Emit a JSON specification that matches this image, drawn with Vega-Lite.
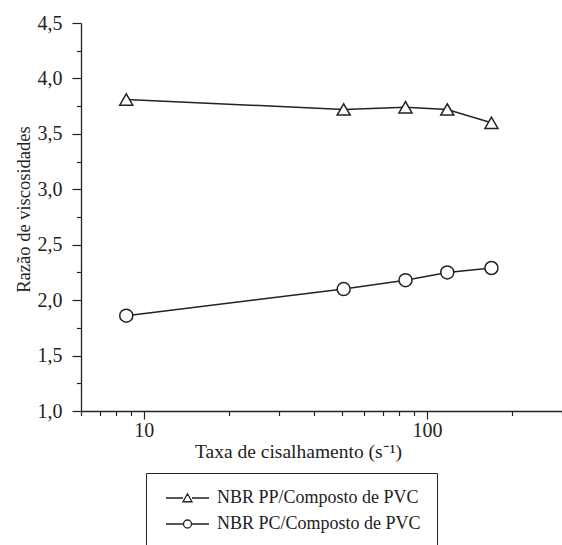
{
  "$schema": "https://vega.github.io/schema/vega-lite/v6.json",
  "width": 481,
  "height": 388,
  "autosize": {"type": "none"},
  "padding": {"left": 81, "top": 23, "right": 0, "bottom": 134},
  "background": "white",
  "config": {
    "view": {"stroke": null},
    "axis": {
      "labelFont": "Liberation Serif",
      "labelFontSize": 20,
      "labelColor": "#222",
      "titleFont": "Liberation Serif",
      "titleFontSize": 19.5,
      "titleFontWeight": "normal",
      "titleColor": "#222",
      "domainColor": "#222",
      "tickColor": "#222",
      "domainWidth": 1.3,
      "tickWidth": 1.2,
      "grid": false
    },
    "legend": {
      "labelFont": "Liberation Serif",
      "labelFontSize": 18,
      "labelColor": "#222",
      "labelLimit": 400
    }
  },
  "data": {
    "values": [
      {"taxa": 8.67, "razao": 3.81, "serie": "NBR PP/Composto de PVC"},
      {"taxa": 50.8, "razao": 3.72, "serie": "NBR PP/Composto de PVC"},
      {"taxa": 84, "razao": 3.74, "serie": "NBR PP/Composto de PVC"},
      {"taxa": 118, "razao": 3.72, "serie": "NBR PP/Composto de PVC"},
      {"taxa": 169, "razao": 3.6, "serie": "NBR PP/Composto de PVC"},
      {"taxa": 8.67, "razao": 1.86, "serie": "NBR PC/Composto de PVC"},
      {"taxa": 50.8, "razao": 2.1, "serie": "NBR PC/Composto de PVC"},
      {"taxa": 84, "razao": 2.18, "serie": "NBR PC/Composto de PVC"},
      {"taxa": 118, "razao": 2.25, "serie": "NBR PC/Composto de PVC"},
      {"taxa": 169, "razao": 2.29, "serie": "NBR PC/Composto de PVC"}
    ]
  },
  "resolve": {
    "axis": {"x": "independent", "y": "independent"},
    "scale": {"shape": "independent"},
    "legend": {"shape": "independent"}
  },
  "layer": [
    {
      "mark": {"type": "line", "color": "#222", "strokeWidth": 1.5},
      "encoding": {
        "x": {
          "field": "taxa", "type": "quantitative",
          "scale": {"type": "log", "domain": [6, 300], "nice": false},
          "axis": {
            "orient": "bottom",
            "values": [10, 100],
            "format": "d",
            "tickSize": 8,
            "labelPadding": 1,
            "title": "Taxa de cisalhamento (s⁻¹)",
            "titleX": 217,
            "titleY": 46,
            "titleBaseline": "alphabetic",
            "titleAnchor": "middle"
          }
        },
        "y": {
          "field": "razao", "type": "quantitative",
          "scale": {"domain": [1, 4.5], "nice": false, "zero": false},
          "axis": {
            "orient": "left",
            "values": [1, 1.5, 2, 2.5, 3, 3.5, 4, 4.5],
            "labelExpr": "replace(format(datum.value, '.1f'), '.', ',')",
            "tickSize": 9,
            "labelPadding": 10,
            "title": "Razão de viscosidades",
            "titleFontSize": 18.5,
            "titleAngle": -90,
            "titleX": -51.5,
            "titleY": 186,
            "titleAlign": "center",
            "titleBaseline": "alphabetic"
          }
        },
        "detail": {"field": "serie"}
      }
    },
    {
      "mark": {"type": "point", "filled": true, "fill": "white", "stroke": "#222", "strokeWidth": 1.5, "opacity": 1},
      "encoding": {
        "x": {
          "field": "taxa", "type": "quantitative",
          "axis": {
            "orient": "bottom",
            "values": [6, 7, 8, 9, 20, 30, 40, 50, 60, 70, 80, 90, 200, 300],
            "labels": false,
            "tickSize": 4.5,
            "domain": false,
            "title": null
          }
        },
        "y": {
          "field": "razao", "type": "quantitative",
          "axis": {
            "orient": "left",
            "values": [1.25, 1.75, 2.25, 2.75, 3.25, 3.75, 4.25],
            "labels": false,
            "tickSize": 4.5,
            "domain": false,
            "title": null
          }
        },
        "shape": {
          "field": "serie", "type": "nominal",
          "scale": {"domain": ["NBR PP/Composto de PVC", "NBR PC/Composto de PVC"], "range": ["triangle-up", "circle"]},
          "legend": null
        },
        "size": {"value": 170}
      }
    },
    {
      "transform": [{"filter": "false"}],
      "mark": {"type": "point", "filled": false, "color": "#222", "strokeWidth": 1.3, "opacity": 1},
      "encoding": {
        "x": {"field": "taxa", "type": "quantitative", "axis": null},
        "y": {"field": "razao", "type": "quantitative", "axis": null},
        "shape": {
          "field": "serie", "type": "nominal",
          "scale": {
            "domain": ["NBR PP/Composto de PVC", "NBR PC/Composto de PVC"],
            "range": [
              "M-1,0L2.4,0M4.2,0L7.6,0M2.4,0.75L3.3,-0.85L4.2,0.75Z",
              "M-1,0L2.5,0M4.1,0L7.6,0M4.1,0A0.8,0.8 0 1,1 2.5,0A0.8,0.8 0 1,1 4.1,0Z"
            ]
          },
          "legend": {
            "title": null,
            "orient": "none",
            "legendX": 65,
            "legendY": 450,
            "strokeColor": "#222",
            "padding": 16,
            "symbolSize": 100,
            "symbolOpacity": 1,
            "symbolStrokeColor": "#222",
            "symbolStrokeWidth": 1.3,
            "labelOffset": 37,
            "rowPadding": 8,
            "encode": {
              "symbols": {
                "update": {
                  "stroke": {"value": "#222"},
                  "strokeWidth": {"value": 1.3},
                  "strokeOpacity": {"value": 1},
                  "opacity": {"value": 1}
                }
              }
            }
          }
        }
      }
    }
  ]
}
